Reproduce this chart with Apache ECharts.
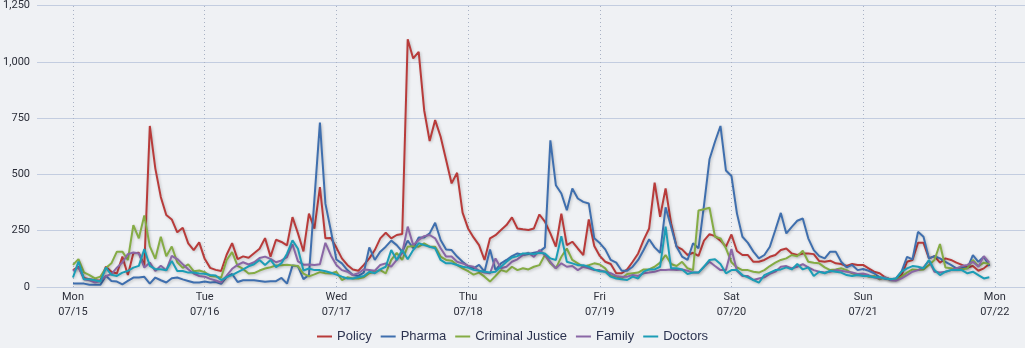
<!DOCTYPE html>
<html>
<head>
<meta charset="utf-8">
<script src="https://cdn.jsdelivr.net/npm/echarts@6/dist/echarts.min.js"></script>
<style>
html,body{margin:0;padding:0;background:#eff1f4;}
#chart{width:1025px;height:348px;}
</style>
</head>
<body>
<div id="chart"></div>
<script>
// Hourly values, Mon 07/15 00:00 .. Sun 07/21 23:00
var seriesNames = ['Policy', 'Pharma', 'Criminal Justice', 'Family', 'Doctors'];
var dayNames = ['Mon', 'Tue', 'Wed', 'Thu', 'Fri', 'Sat', 'Sun', 'Mon'];
var dayDates = ['07/15', '07/16', '07/17', '07/18', '07/19', '07/20', '07/21', '07/22'];
var dayTickHours = [0, 24, 48, 72, 96, 120, 144, 168];
var yTicks = [0, 250, 500, 750, 1000, 1250];

var policy = [
  75, 90, 40, 35, 30, 28, 90, 68, 60, 135, 53, 150, 152, 95, 715, 527, 400, 320, 300, 243, 263, 194, 164, 198,
  125, 85, 76, 71, 143, 195, 124, 136, 130, 150, 170, 217, 135, 210, 200, 185, 310, 238, 158, 326, 259, 444, 216, 218,
  175, 127, 98, 78, 72, 98, 127, 164, 216, 241, 216, 231, 235, 1100, 1015, 1044, 785, 648, 741, 667, 564, 460, 507, 330,
  260, 220, 186, 120, 216, 230, 253, 275, 309, 260, 256, 253, 260, 322, 290, 238, 179, 326, 186, 201, 171, 142, 300, 182,
  138, 112, 102, 61, 61, 78, 112, 149, 209, 260, 463, 312, 438, 283, 179, 167, 142, 152, 138, 206, 235, 226, 206, 179,
  233, 160, 142, 142, 112, 112, 120, 134, 142, 164, 171, 149, 142, 149, 149, 146, 115, 112, 117, 105, 102, 93, 102, 98,
  98, 83, 68, 61, 43, 34, 34, 53, 112, 120, 196, 196, 127, 137, 108, 127, 120, 108, 98, 87, 93, 72, 83, 102
];
var pharma = [
  15, 15, 15, 10, 10, 10, 50, 27, 24, 12, 27, 42, 42, 45, 15, 42, 30, 20, 39, 42, 34, 27, 20, 20,
  24, 20, 22, 14, 45, 58, 22, 30, 30, 30, 27, 23, 25, 26, 40, 15, 95, 92, 35, 53, 390, 730, 370, 250,
  122, 105, 75, 53, 49, 64, 176, 120, 157, 179, 206, 186, 157, 206, 172, 220, 220, 238, 285, 209, 167, 164, 135, 112,
  92, 83, 98, 68, 167, 75, 105, 120, 137, 149, 142, 146, 152, 157, 176, 651, 452, 415, 341, 437, 393, 378, 371, 216,
  195, 167, 120, 108, 72, 72, 90, 120, 164, 212, 176, 152, 354, 268, 179, 135, 120, 194, 172, 364, 567, 645, 715, 517,
  493, 327, 223, 196, 157, 127, 142, 179, 253, 329, 238, 267, 294, 304, 216, 164, 137, 127, 157, 157, 112, 87, 98, 75,
  80, 72, 61, 43, 38, 34, 38, 68, 134, 123, 245, 223, 127, 137, 127, 112, 98, 83, 87, 83, 142, 112, 134, 93
];
var criminalJustice = [
  98, 124, 65, 53, 38, 46, 84, 105, 157, 157, 120, 275, 216, 318, 180, 125, 223, 137, 180, 110, 85, 101, 70, 73,
  66, 49, 47, 41, 120, 155, 94, 80, 60, 62, 73, 82, 88, 96, 97, 99, 96, 93, 59, 47, 56, 66, 61, 60,
  68, 31, 43, 38, 38, 43, 61, 68, 75, 61, 120, 152, 120, 179, 182, 179, 194, 179, 179, 135, 120, 117, 98, 83,
  70, 55, 64, 46, 24, 49, 75, 68, 90, 75, 83, 78, 90, 97, 142, 105, 83, 134, 171, 120, 105, 90, 97, 105,
  100, 83, 49, 46, 38, 58, 61, 64, 78, 78, 90, 108, 142, 102, 93, 112, 83, 75, 340, 345, 352, 223, 216, 172,
  110, 87, 75, 75, 68, 64, 75, 93, 108, 120, 127, 142, 137, 161, 112, 108, 105, 87, 75, 78, 83, 75, 61, 53,
  53, 46, 49, 34, 43, 31, 31, 46, 64, 78, 75, 78, 98, 120, 191, 87, 83, 78, 78, 83, 120, 93, 108, 102
];
var family = [
  71, 88, 34, 30, 20, 27, 49, 57, 86, 109, 146, 153, 149, 86, 109, 71, 94, 74, 138, 124, 101, 79, 60, 49,
  46, 36, 29, 20, 50, 81, 98, 110, 100, 110, 129, 135, 125, 110, 118, 133, 190, 114, 99, 100, 98, 101, 196, 140,
  98, 75, 68, 53, 61, 78, 75, 72, 98, 105, 90, 120, 152, 268, 186, 209, 226, 231, 216, 172, 135, 135, 112, 105,
  95, 90, 72, 64, 61, 127, 83, 90, 112, 123, 142, 152, 134, 164, 142, 112, 83, 105, 90, 93, 75, 90, 83, 75,
  75, 68, 61, 49, 46, 46, 53, 49, 61, 64, 68, 75, 75, 78, 75, 78, 72, 64, 64, 90, 112, 93, 75, 75,
  169, 72, 49, 49, 31, 38, 43, 58, 68, 90, 93, 83, 90, 102, 87, 75, 68, 64, 68, 75, 72, 68, 64, 58,
  60, 53, 43, 38, 43, 31, 28, 38, 53, 68, 75, 87, 117, 68, 64, 68, 75, 83, 93, 98, 112, 90, 137, 108
];
var doctors = [
  42, 113, 34, 34, 30, 24, 86, 54, 49, 64, 71, 86, 94, 168, 94, 79, 79, 74, 116, 71, 71, 64, 64, 60,
  59, 53, 51, 31, 44, 53, 66, 78, 92, 101, 120, 98, 120, 88, 106, 148, 207, 170, 73, 82, 75, 75, 70, 63,
  55, 46, 38, 38, 43, 49, 68, 61, 78, 90, 164, 120, 164, 123, 164, 194, 186, 179, 172, 120, 105, 105, 98, 90,
  86, 76, 72, 68, 64, 68, 90, 112, 131, 137, 149, 149, 146, 152, 149, 127, 120, 226, 112, 105, 97, 97, 90, 78,
  70, 68, 46, 38, 34, 31, 46, 38, 68, 78, 78, 90, 268, 83, 83, 78, 58, 64, 64, 90, 120, 123, 102, 61,
  75, 75, 53, 43, 31, 19, 53, 64, 75, 78, 87, 78, 102, 78, 87, 49, 68, 61, 72, 68, 64, 53, 49, 53,
  49, 49, 43, 43, 38, 34, 38, 68, 83, 93, 90, 83, 120, 75, 53, 68, 75, 75, 75, 61, 68, 53, 38, 43
];

var seriesValues = [policy, pharma, criminalJustice, family, doctors];
var colors = ['#b83b3a', '#3f6fae', '#85ac45', '#8a67a6', '#1c9db6'];

function toPairs(arr) {
  return arr.map(function (v, i) { return [i, v]; });
}

var series = seriesNames.map(function (name, k) {
  var s = {
    name: name,
    type: 'line',
    data: toPairs(seriesValues[k]),
    showSymbol: false,
    symbol: 'none',
    lineStyle: {
      width: 2,
      color: colors[k],
      shadowColor: 'rgba(0,0,0,0.22)',
      shadowBlur: 3,
      shadowOffsetX: 1,
      shadowOffsetY: 1
    },
    itemStyle: { color: colors[k] },
    animation: false,
    z: 3 + k
  };
  if (k === 0) {
    s.markLine = {
      silent: true,
      symbol: 'none',
      label: { show: false },
      lineStyle: { type: [1, 3], color: '#a9b2c4', width: 1 },
      data: dayTickHours.map(function (h) { return { xAxis: h }; }),
      z: 1
    };
  }
  return s;
});

var chart = echarts.init(document.getElementById('chart'), null, { renderer: 'canvas' });
chart.setOption({
  backgroundColor: '#eff1f4',
  animation: false,
  color: colors,
  grid: { left: 37, right: 0, top: 5, bottom: 61, containLabel: false },
  legend: {
    top: 325,
    left: 'center',
    icon: 'rect',
    itemWidth: 15,
    itemHeight: 2,
    itemGap: 9,
    textStyle: { fontFamily: 'Liberation Sans, Arial, sans-serif', fontSize: 13, color: '#2c3350', padding: [0, 0, 0, 0] },
    data: seriesNames
  },
  xAxis: {
    type: 'value',
    min: -6.56,
    max: 173.5,
    splitLine: { show: false },
    axisLine: { show: true, lineStyle: { color: '#c3cde0', width: 1 } },
    axisTick: { show: false, customValues: dayTickHours },
    axisLabel: {
      customValues: dayTickHours,
      margin: 3,
      fontFamily: 'Roboto, sans-serif',
      fontSize: 11,
      lineHeight: 15,
      color: '#2c2f3a',
      formatter: function (v) {
        var i = dayTickHours.indexOf(Math.round(v));
        return i < 0 ? '' : dayNames[i] + '\n' + dayDates[i];
      }
    }
  },
  yAxis: {
    type: 'value',
    min: yTicks[0],
    max: yTicks[yTicks.length - 1],
    interval: 250,
    axisLine: { show: false },
    axisTick: { show: false },
    splitLine: { lineStyle: { color: '#c3cde0', width: 1 } },
    axisLabel: {
      margin: 7,
      fontFamily: 'Roboto, sans-serif',
      fontSize: 11,
      color: '#2c2f3a',
      formatter: function (v) { return v.toLocaleString('en-US'); }
    }
  },
  series: series
});
</script>
</body>
</html>
